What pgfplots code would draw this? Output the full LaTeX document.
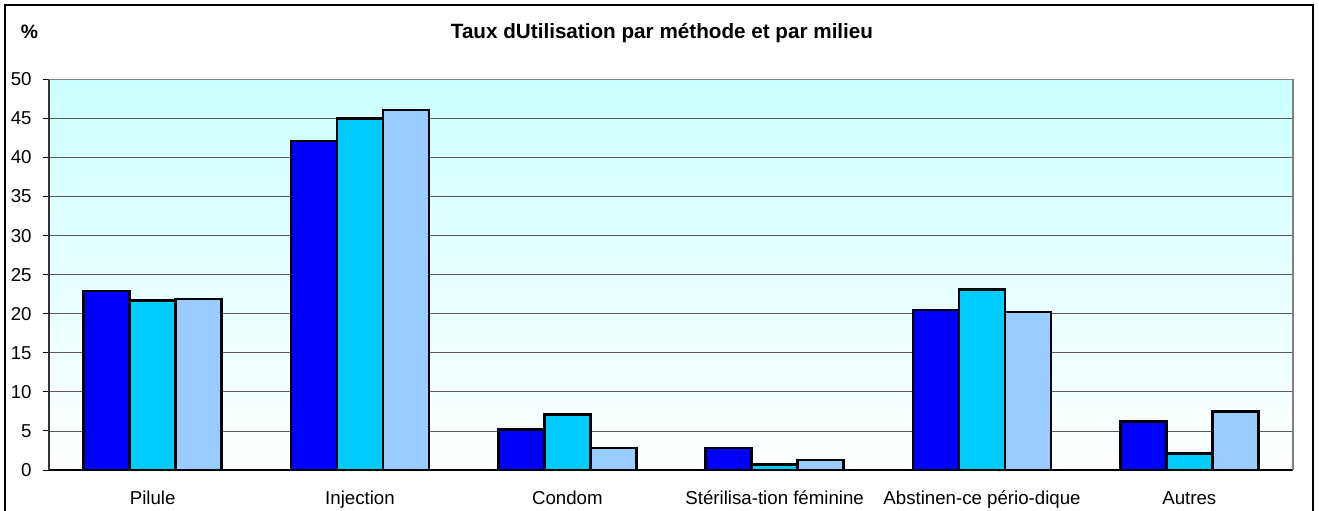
\documentclass[border=0pt]{standalone}
\usepackage{fontspec}
\setmainfont{Liberation Sans}
\usepackage{pgfplots}
\pgfplotsset{compat=1.18}
\definecolor{BarBlue}{RGB}{0,0,255}
\definecolor{BarCyan}{RGB}{0,204,255}
\definecolor{BarLight}{RGB}{153,204,255}
\definecolor{BgTop}{RGB}{204,255,255}
\definecolor{GridGray}{RGB}{90,90,90}

\begin{document}
\begin{tikzpicture}[x=1pt,y=1pt]
\useasboundingbox (-36.75,-30) rectangle (952.5,352.5);
% outer frame
\draw[line width=1.2pt] (-33,-40) -- (-33,348.75) -- (948,348.75) -- (948,-40);
\node[font=\bfseries\fontsize{15.5}{18}\selectfont] at (459.75,327.5) {Taux dUtilisation par méthode et par milieu};
\node[font=\bfseries\fontsize{14.5}{16}\selectfont] at (-14.6,328.5) {\%};
\begin{axis}[
  scale only axis, width=933pt, height=293pt,
  ymin=0, ymax=50, xmin=-0.5, xmax=5.5,
  ybar=0pt, bar width=34.5pt,
  axis background/.style={top color=BgTop, bottom color=white},
  axis x line*=bottom, axis y line*=left,
  x axis line style={black, line width=0.8pt, -},
  y axis line style={black!80, line width=0.8pt, -},
  ytick={0,5,...,50},
  ymajorgrids, grid style={GridGray, line width=0.6pt},
  tick align=outside, major tick length=4.5pt,
  tick style={black, line width=0.7pt},
  xtick={0,...,5},
  xticklabels={Pilule, Injection, Condom, Stérilisa-tion féminine, Abstinen-ce pério-dique, Autres},
  x tick style={draw=none},
  extra x ticks={-0.5,0.5,...,5.5},
  extra x tick labels={},
  extra x tick style={grid=none, tick style={draw=black, line width=0.7pt}},
  ticklabel style={font=\fontsize{14}{16}\selectfont},
  /pgf/number format/assume math mode=true,
  xticklabel style={anchor=base, yshift=-21pt},
  yticklabel style={xshift=-5pt},
]
\addplot[fill=BarBlue, draw=black, line width=1.9pt] coordinates {(0,22.9) (1,42.1) (2,5.2) (3,2.8) (4,20.5) (5,6.2)};
\addplot[fill=BarCyan, draw=black, line width=1.9pt] coordinates {(0,21.7) (1,45.0) (2,7.1) (3,0.7) (4,23.1) (5,2.1)};
\addplot[fill=BarLight, draw=black, line width=1.9pt] coordinates {(0,21.9) (1,46.1) (2,2.8) (3,1.3) (4,20.2) (5,7.5)};
\end{axis}
\draw[black!50, line width=1.2pt] (0,293) -- (933,293) -- (933,0);
\end{tikzpicture}
\end{document}
